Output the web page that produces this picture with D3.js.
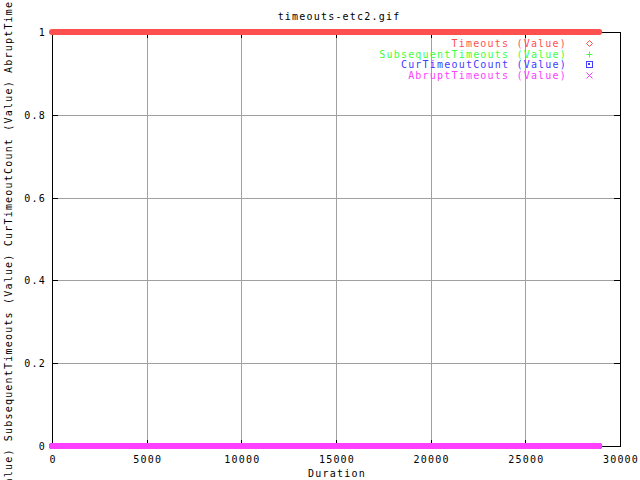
<!DOCTYPE html>
<html><head><meta charset="utf-8">
<script src="https://cdn.jsdelivr.net/npm/d3@7"></script>
<style>body{margin:0;background:#fff}svg{display:block}text{font-family:"DejaVu Sans Mono",monospace;font-size:10px;letter-spacing:1.2px}</style>
</head><body><svg id="c" width="640" height="480"></svg>
<script>
const title = "timeouts-etc2.gif";
const xLabel = "Duration";
const yLabel = "Timeouts (Value) SubsequentTimeouts (Value) CurTimeoutCount (Value) AbruptTimeouts (Value)";
const seriesNames = ["Timeouts (Value)", "SubsequentTimeouts (Value)", "CurTimeoutCount (Value)", "AbruptTimeouts (Value)"];
const seriesColors = ["#ff5050", "#40ff40", "#4040ff", "#ff40ff"];
const seriesSymbols = ["diamond", "plus", "box", "cross"];
const durations = [0, 28900];
const timeouts = [1, 1];
const subsequentTimeouts = [0, 0];
const curTimeoutCount = [0, 0];
const abruptTimeouts = [0, 0];
const xTicks = [0, 5000, 10000, 15000, 20000, 25000, 30000];
const yTicks = [0, 0.2, 0.4, 0.6, 0.8, 1];

const series = [timeouts, subsequentTimeouts, curTimeoutCount, abruptTimeouts];
const svg = d3.select("#c");
const L = 52, R = 620, T = 32, B = 446;
const x = d3.scaleLinear().domain([0, 30000]).range([L, R]);
const y = d3.scaleLinear().domain([0, 1]).range([B, T]);

// grid
svg.append("g").selectAll("line").data(xTicks.slice(1, -1)).join("line")
  .attr("x1", d => Math.round(x(d)) + .5).attr("x2", d => Math.round(x(d)) + .5).attr("y1", T).attr("y2", B)
  .attr("stroke", "#a0a0a0");
svg.append("g").selectAll("line").data(yTicks.slice(1, -1)).join("line")
  .attr("y1", d => Math.round(y(d)) + .5).attr("y2", d => Math.round(y(d)) + .5).attr("x1", L).attr("x2", R)
  .attr("stroke", "#a0a0a0");

// border
svg.append("rect").attr("x", L + .5).attr("y", T + .5).attr("width", R - L).attr("height", B - T)
  .attr("fill", "none").attr("stroke", "#000");

// ticks (inside, mirrored)
const tk = svg.append("g").attr("stroke", "#000");
xTicks.forEach(d => {
  const px = Math.round(x(d)) + .5;
  tk.append("line").attr("x1", px).attr("x2", px).attr("y1", B).attr("y2", B - 6);
  tk.append("line").attr("x1", px).attr("x2", px).attr("y1", T).attr("y2", T + 6);
});
yTicks.forEach(d => {
  const py = Math.round(y(d)) + .5;
  tk.append("line").attr("y1", py).attr("y2", py).attr("x1", L).attr("x2", L + 6);
  tk.append("line").attr("y1", py).attr("y2", py).attr("x1", R).attr("x2", R - 6);
});

// tick labels
svg.append("g").selectAll("text").data(xTicks).join("text")
  .attr("x", d => x(d) + 1).attr("y", 463).attr("text-anchor", "middle").text(d => d);
svg.append("g").selectAll("text").data(yTicks).join("text")
  .attr("x", 46).attr("y", d => y(d) + 4).attr("text-anchor", "end").text(d => d);

// labels
svg.append("text").attr("x", 339).attr("y", 20).attr("text-anchor", "middle").text(title);
svg.append("text").attr("x", 337).attr("y", 477).attr("text-anchor", "middle").text(xLabel);
svg.append("text").attr("transform", "translate(12,239) rotate(-90)").attr("text-anchor", "middle").text(yLabel);

// series
const line = d3.line().x((d, i) => x(durations[i])).y(d => y(d));
series.forEach((s, i) => {
  svg.append("path").datum(s).attr("d", line).attr("fill", "none")
    .attr("stroke", seriesColors[i]).attr("stroke-width", 6).attr("stroke-linecap", "round");
});

// legend
seriesNames.forEach((n, i) => {
  const ly = 43 + i * 10.6;
  svg.append("text").attr("x", 567).attr("y", ly + 4).attr("text-anchor", "end")
    .attr("fill", seriesColors[i]).text(n);
  const g = svg.append("g").attr("transform", `translate(589.5,${Math.round(ly) + .5})`)
    .attr("stroke", seriesColors[i]).attr("fill", "none");
  const sym = seriesSymbols[i];
  if (sym === "diamond") g.append("path").attr("d", "M0,-3L3,0L0,3L-3,0Z");
  else if (sym === "plus") g.append("path").attr("d", "M-3,0H3M0,-3V3");
  else if (sym === "box") { g.append("rect").attr("x", -3).attr("y", -3).attr("width", 6).attr("height", 6); g.append("rect").attr("x", -1).attr("y", -1).attr("width", 1).attr("height", 1).attr("fill", seriesColors[i]); }
  else g.append("path").attr("d", "M-3,-3L3,3M-3,3L3,-3");
});
</script></body></html>
